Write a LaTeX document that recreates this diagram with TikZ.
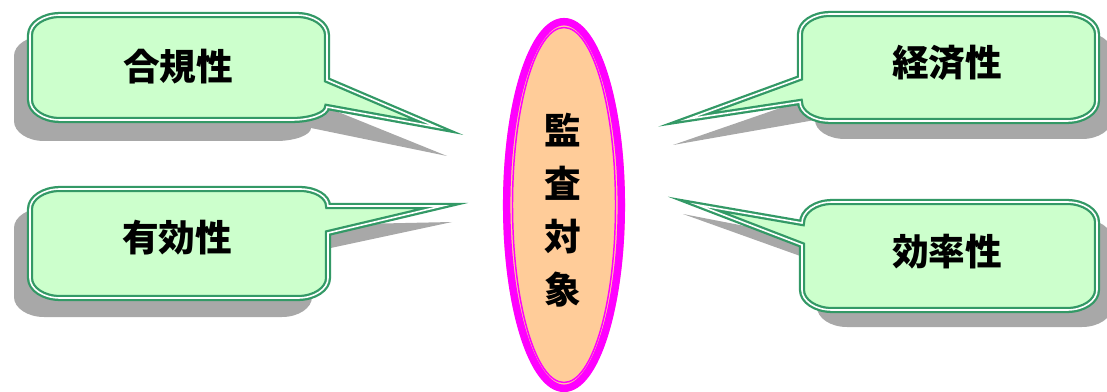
\documentclass[tikz,border=0pt]{standalone}
\usepackage{fontspec}
\newfontfamily\cjk{Noto Sans CJK JP}
\definecolor{bgreen}{RGB}{51,153,102}
\definecolor{cfill}{RGB}{204,255,204}
\definecolor{peach}{RGB}{255,204,153}
\definecolor{magen}{RGB}{255,0,255}
\def\pathTL#1{(60,15) -- (297,15) .. controls (313.6,15) and (327,24) .. (327,35) -- (327,80) -- (#1) -- (327,107) .. controls (327,114) and (311,120) .. (292,120) -- (60,120) .. controls (43.4,120) and (30,111) .. (30,100) -- (30,35) .. controls (30,24) and (43.4,15) .. (60,15) -- cycle}
\def\pathBL#1{(60,189) -- (300,189) .. controls (315.5,189) and (328,196.6) .. (328,206) -- (#1) -- (328,233) -- (328,278) .. controls (328,289) and (314.6,298) .. (298,298) -- (60,298) .. controls (43.4,298) and (30,289) .. (30,278) -- (30,209) .. controls (30,198) and (43.4,189) .. (60,189) -- cycle}
\def\pathTR#1{(830,14) -- (1067,14) .. controls (1083.6,14) and (1097,23) .. (1097,34) -- (1097,101) .. controls (1097,112) and (1083.6,121) .. (1067,121) -- (830,121) .. controls (813.4,121) and (800,112.5) .. (800,102) -- (#1) -- (800,78) -- (800,34) .. controls (800,23) and (813.4,14) .. (830,14) -- cycle}
\def\pathBR#1{(832,202) -- (1067,202) .. controls (1083.6,202) and (1097,211) .. (1097,222) -- (1097,290) .. controls (1097,301) and (1083.6,310) .. (1067,310) -- (832,310) .. controls (815.4,310) and (802,301) .. (802,290) -- (802,245) -- (#1) -- (802,223) .. controls (802,211.4) and (815.4,202) .. (832,202) -- cycle}
\begin{document}
\begin{tikzpicture}[x=0.75pt,y=-0.75pt,
  shadowfill/.style={fill=black!34},
  callout/.style={fill=cfill, draw=bgreen, line width=1.7pt, double=white, double distance=1.2pt, miter limit=40},
  lbl/.style={font=\cjk\bfseries\fontsize{27.5}{32}\selectfont, inner sep=0pt}]
\useasboundingbox (0,0) rectangle (1107,392);
% shadows
\fill[shadowfill, shift={(-16,21)}] \pathTL{463,135};
\fill[shadowfill, shift={(-16,19)}] \pathBL{468,203};
\fill[shadowfill, shift={(15,18)}] \pathTR{658,127};
\fill[shadowfill, shift={(15,17)}] \pathBR{668,197};
% callouts
\path[callout] \pathTL{437,127};
\path[callout] \pathBL{442,206};
\path[callout] \pathTR{688,119};
\path[callout] \pathBR{698,205};
\node[lbl] (tl) at (178,67) {合規性};
\node[lbl] (bl) at (177,238) {有効性};
\node[lbl] (tr) at (947,63) {経済性};
\node[lbl] (br) at (947,252) {効率性};
% central ellipse
\fill[peach] (564,205) ellipse [x radius=61, y radius=187];
\draw[magen, line width=5.6pt] (564,205) ellipse [x radius=57.3, y radius=183.3];
\draw[magen, line width=1.1pt] (564,205) ellipse [x radius=51.5, y radius=177.5];
\node[lbl, align=center, font=\cjk\bfseries\fontsize{27.5}{39.75}\selectfont] (obj) at (563,210) {監\\査\\対\\象};
\end{tikzpicture}
\end{document}
